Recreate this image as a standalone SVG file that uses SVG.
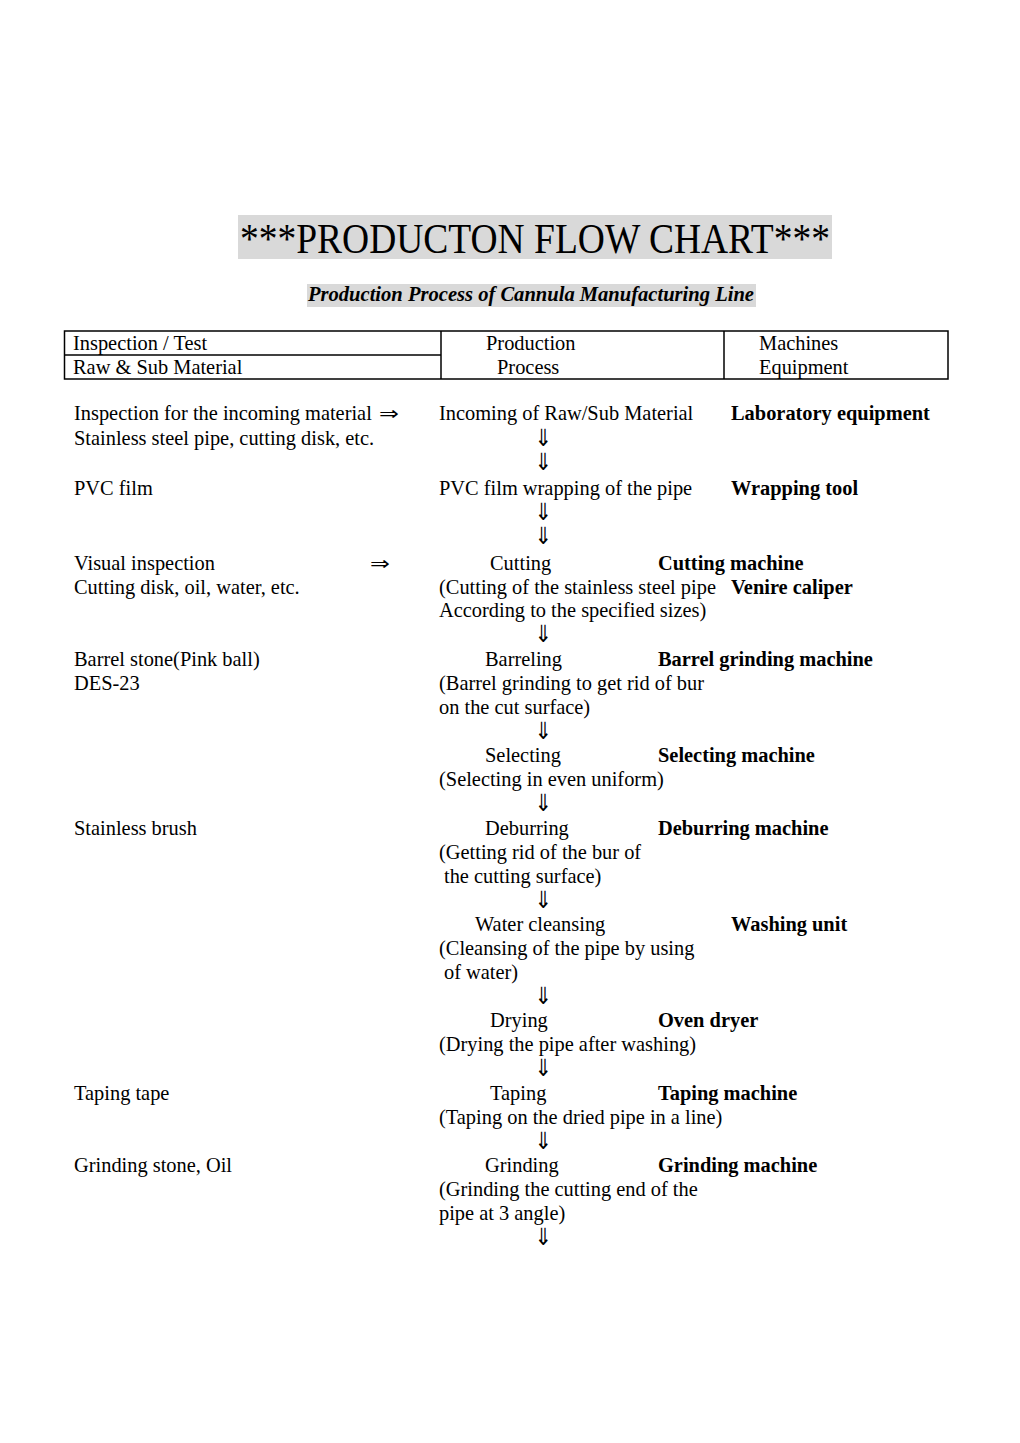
<svg xmlns="http://www.w3.org/2000/svg" width="1020" height="1443" viewBox="0 0 1020 1443">
<style>
text{font-family:"Liberation Serif","Times New Roman",serif;font-size:20.4px;fill:#000}
.b{font-weight:bold}
.t{font-size:43px}
.s{font-size:20.4px;font-weight:bold;font-style:italic}
.ar{font-family:"DejaVu Sans",sans-serif;font-size:17px;text-anchor:middle}
.ra{font-family:"DejaVu Sans",sans-serif;font-size:19px}
.ln{stroke:#000;stroke-width:1.5;fill:none}
</style>
<rect width="1020" height="1443" fill="#fff"/>
<g id="title">
<rect x="238" y="215" width="594" height="44" fill="#d9d9d9"/>
<text class="t" x="240" y="253" textLength="590" lengthAdjust="spacingAndGlyphs">***PRODUCTON FLOW CHART***</text>
</g>
<g id="subtitle">
<rect x="307" y="284" width="449" height="23" fill="#d9d9d9"/>
<text class="s" x="308" y="301" textLength="446" lengthAdjust="spacingAndGlyphs">Production Process of Cannula Manufacturing Line</text>
</g>
<g id="header">
<rect class="ln" x="64.5" y="331" width="883.5" height="48"/>
<line class="ln" x1="64.5" y1="355" x2="441" y2="355"/>
<line class="ln" x1="441" y1="331" x2="441" y2="379"/>
<line class="ln" x1="724" y1="331" x2="724" y2="379"/>
<text x="73" y="350">Inspection / Test</text>
<text x="73" y="374">Raw &amp; Sub Material</text>
<text x="486" y="350">Production</text>
<text x="497" y="374">Process</text>
<text x="759" y="350">Machines</text>
<text x="759" y="374">Equipment</text>
</g>
<g id="col-material">
<text x="74" y="420">Inspection for the incoming material</text>
<text class="ra" transform="translate(379,420) scale(1.25,1)">⇒</text>
<text x="74" y="445">Stainless steel pipe, cutting disk, etc.</text>
<text x="74" y="495">PVC film</text>
<text x="74" y="570">Visual inspection</text>
<text class="ra" transform="translate(370,570) scale(1.25,1)">⇒</text>
<text x="74" y="594">Cutting disk, oil, water, etc.</text>
<text x="74" y="666">Barrel stone(Pink ball)</text>
<text x="74" y="690">DES-23</text>
<text x="74" y="835">Stainless brush</text>
<text x="74" y="1100">Taping tape</text>
<text x="74" y="1172">Grinding stone, Oil</text>
</g>
<g id="col-process">
<text x="439" y="420">Incoming of Raw/Sub Material</text>
<text x="439" y="495">PVC film wrapping of the pipe</text>
<text x="490" y="570">Cutting</text>
<text x="439" y="594">(Cutting of the stainless steel pipe</text>
<text x="439" y="617">According to the specified sizes)</text>
<text x="485" y="666">Barreling</text>
<text x="439" y="690">(Barrel grinding to get rid of bur</text>
<text x="439" y="714">on the cut surface)</text>
<text x="485" y="762">Selecting</text>
<text x="439" y="786">(Selecting in even uniform)</text>
<text x="485" y="835">Deburring</text>
<text x="439" y="859">(Getting rid of the bur of</text>
<text x="444" y="883">the cutting surface)</text>
<text x="475" y="931">Water cleansing</text>
<text x="439" y="955">(Cleansing of the pipe by using</text>
<text x="444" y="979">of water)</text>
<text x="490" y="1027">Drying</text>
<text x="439" y="1051">(Drying the pipe after washing)</text>
<text x="490" y="1100">Taping</text>
<text x="439" y="1124">(Taping on the dried pipe in a line)</text>
<text x="485" y="1172">Grinding</text>
<text x="439" y="1196">(Grinding the cutting end of the</text>
<text x="439" y="1220">pipe at 3 angle)</text>
</g>
<g id="col-machines">
<text class="b" x="731" y="420">Laboratory equipment</text>
<text class="b" x="731" y="495">Wrapping tool</text>
<text class="b" x="658" y="570">Cutting machine</text>
<text class="b" x="731" y="594">Venire caliper</text>
<text class="b" x="658" y="666">Barrel grinding machine</text>
<text class="b" x="658" y="762">Selecting machine</text>
<text class="b" x="658" y="835">Deburring machine</text>
<text class="b" x="731" y="931">Washing unit</text>
<text class="b" x="658" y="1027">Oven dryer</text>
<text class="b" x="658" y="1100">Taping machine</text>
<text class="b" x="658" y="1172">Grinding machine</text>
</g>
<g id="connectors">
<text class="ar" transform="translate(543,446) scale(1.2,1.4)">⇓</text>
<text class="ar" transform="translate(543,470) scale(1.2,1.4)">⇓</text>
<text class="ar" transform="translate(543,520) scale(1.2,1.4)">⇓</text>
<text class="ar" transform="translate(543,544) scale(1.2,1.4)">⇓</text>
<text class="ar" transform="translate(543,642) scale(1.2,1.4)">⇓</text>
<text class="ar" transform="translate(543,739) scale(1.2,1.4)">⇓</text>
<text class="ar" transform="translate(543,811) scale(1.2,1.4)">⇓</text>
<text class="ar" transform="translate(543,908) scale(1.2,1.4)">⇓</text>
<text class="ar" transform="translate(543,1004) scale(1.2,1.4)">⇓</text>
<text class="ar" transform="translate(543,1076) scale(1.2,1.4)">⇓</text>
<text class="ar" transform="translate(543,1149) scale(1.2,1.4)">⇓</text>
<text class="ar" transform="translate(543,1245) scale(1.2,1.4)">⇓</text>
</g>
</svg>
